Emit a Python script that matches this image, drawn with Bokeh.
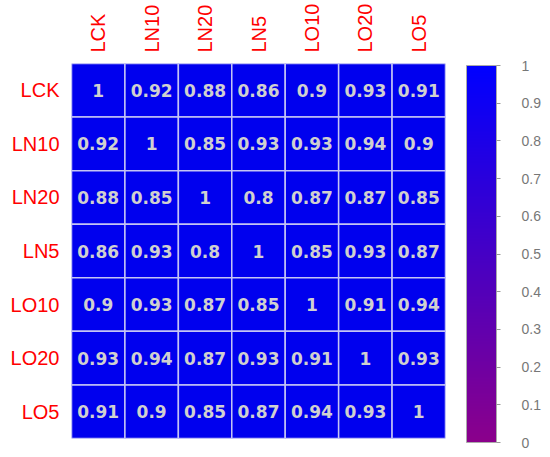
import numpy as np
from bokeh.plotting import figure
from bokeh.models import (ColumnDataSource, LinearColorMapper, ColorBar, FixedTicker,
                          CustomJSTickFormatter)
from bokeh.core.properties import value
from bokeh.embed import file_html
from bokeh.resources import INLINE

labels = ["LCK", "LN10", "LN20", "LN5", "LO10", "LO20", "LO5"]
row_LCK  = [1, 0.92, 0.88, 0.86, 0.9, 0.93, 0.91]
row_LN10 = [0.92, 1, 0.85, 0.93, 0.93, 0.94, 0.9]
row_LN20 = [0.88, 0.85, 1, 0.8, 0.87, 0.87, 0.85]
row_LN5  = [0.86, 0.93, 0.8, 1, 0.85, 0.93, 0.87]
row_LO10 = [0.9, 0.93, 0.87, 0.85, 1, 0.91, 0.94]
row_LO20 = [0.93, 0.94, 0.87, 0.93, 0.91, 1, 0.93]
row_LO5  = [0.91, 0.9, 0.85, 0.87, 0.94, 0.93, 1]
rows = [row_LCK, row_LN10, row_LN20, row_LN5, row_LO10, row_LO20, row_LO5]
cbar_ticks = [0, 0.1, 0.2, 0.3, 0.4, 0.5, 0.6, 0.7, 0.8, 0.9, 1]

xs, ys, vals, txt = [], [], [], []
for r, rl in zip(rows, labels):
    for c, cl in zip(r, labels):
        xs.append(cl); ys.append(rl); vals.append(c); txt.append(f"{c:g}")
src = ColumnDataSource(dict(x=xs, y=ys, v=vals, t=txt))

p = figure(x_range=labels, y_range=list(reversed(labels)),
           frame_width=374, frame_height=375,
           output_backend="svg", toolbar_location=None,
           x_axis_location="above", min_border_left=71, min_border_top=63,
           min_border_bottom=16, min_border_right=102, outline_line_color=None)
p.background_fill_color = "white"
p.grid.visible = False

p.rect(x="x", y="y", width=1, height=1, source=src, fill_color="#0000EE",
       line_color="#c4c4f4", line_width=1.5)
p.text(x="x", y="y", text="t", source=src, text_align="center", text_baseline="middle",
       text_color="#d0d0d0", text_font=value("DejaVu Sans"), text_font_size="17px",
       text_font_style="bold")

for ax in p.xaxis + p.yaxis:
    ax.axis_line_color = None
    ax.major_tick_line_color = None
    ax.minor_tick_line_color = None
    ax.major_label_text_color = "#ff0000"
    ax.major_label_text_font = "Liberation Sans"
    ax.major_label_text_font_size = "20px"
p.xaxis.major_label_orientation = "vertical"
p.xaxis.major_label_standoff = 5
p.yaxis.major_label_standoff = 6

pal = []
c0 = np.array([0x8B, 0x00, 0x8B]); c1 = np.array([0x00, 0x00, 0xFF])
for i in range(256):
    t = i / 255
    c = (c0 * (1 - t) + c1 * t).round().astype(int)
    pal.append("#%02x%02x%02x" % tuple(c))
mapper = LinearColorMapper(palette=pal, low=0, high=1)
cb = ColorBar(color_mapper=mapper, width=30, height=377, margin=0, padding=0,
              ticker=FixedTicker(ticks=cbar_ticks),
              formatter=CustomJSTickFormatter(code="return tick.toFixed(1).replace('.0','')"),
              major_tick_in=0, major_tick_out=4, major_tick_line_color="#999999",
              major_label_text_color="#777777", major_label_text_font="Liberation Sans",
              major_label_text_font_size="14px", label_standoff=21,
              major_label_text_align="center",
              bar_line_color="#aaaaaa", border_line_color=None, background_fill_alpha=0,
              location=(395, -4))
p.add_layout(cb)

open("out.html", "w").write(file_html(p, INLINE))
